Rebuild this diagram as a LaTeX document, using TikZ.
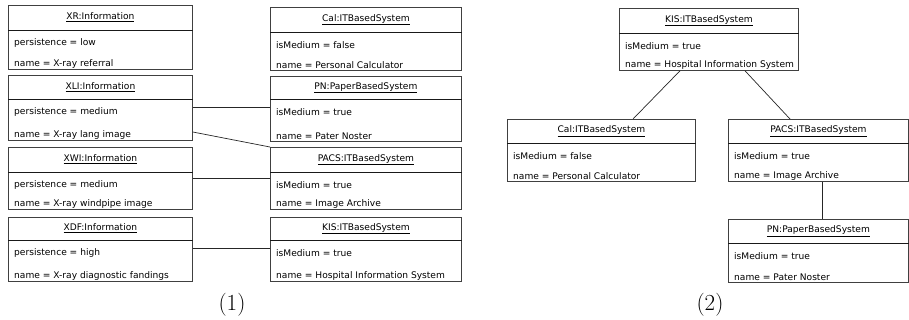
\documentclass[tikz,border=0pt]{standalone}
\usepackage{fontspec}
\newfontfamily\umlfont{DejaVu Sans}
\tikzset{
  objbox/.style={draw=black!75, line width=0.8pt, rectangle, inner sep=0pt, anchor=north west},
  hdr/.style={draw=black!90, line width=0.8pt},
  ttl/.style={font=\umlfont\fontsize{9.1}{11}\selectfont, inner sep=0pt},
  attr/.style={font=\umlfont\fontsize{9.1}{11}\selectfont, inner sep=0pt, anchor=west},
  link/.style={draw=black!85, line width=0.7pt},
  captext/.style={font=\fontsize{23}{27}\selectfont, inner sep=0pt}
}
% #1 name, #2 x, #3 top, #4 width, #5 height, #6 header height, #7 title, #8 attr1, #9 attr2
\newcommand\umlobj[9]{%
  \node[objbox, minimum width=#4pt, minimum height=#5pt] (#1) at (#2,#3) {};
  \draw[hdr] ([yshift=-#6pt]#1.north west) -- ([yshift=-#6pt]#1.north east);
  \node[ttl] (#1-t) at ([yshift=-#6pt/2]#1.north) {\underline{#7}};
  \node[attr] (#1-a) at ([xshift=6pt, yshift=-#6pt-13pt]#1.north west) {#8};
  \node[attr] (#1-b) at ([xshift=6pt, yshift=6pt]#1.south west) {#9};
}
\begin{document}
\begin{tikzpicture}[x=1pt, y=-1pt]
\useasboundingbox (0,0) rectangle (909,320);
% ---- (1) ----
\umlobj{xr}{8}{5}{184}{64}{25}{XR:Information}{persistence = low}{name = X-ray referral}
\umlobj{xli}{8}{75}{184}{65}{24}{XLI:Information}{persistence = medium}{name = X-ray lang image}
\umlobj{xwi}{8}{147}{184}{62}{25}{XWI:Information}{persistence = medium}{name = X-ray windpipe image}
\umlobj{xdf}{8}{217}{184}{64}{23}{XDF:Information}{persistence = high}{name = X-ray diagnostic fandings}
\umlobj{cal}{270}{7}{191}{63}{25}{Cal:ITBasedSystem}{isMedium = false}{name = Personal Calculator}
\umlobj{pn}{270}{76}{191}{65}{23}{PN:PaperBasedSystem}{isMedium = true}{name = Pater Noster}
\umlobj{pacs}{270}{147}{191}{62}{25}{PACS:ITBasedSystem}{isMedium = true}{name = Image Archive}
\umlobj{kis}{270}{217}{191}{64}{23}{KIS:ITBasedSystem}{isMedium = true}{name = Hospital Information System}
\draw[link] (xli.east |- 0,107) -- (pn.west |- 0,107);
\draw[link] (xli.east |- 0,132) -- (pacs.north west);
\draw[link] (xwi.east |- 0,178) -- (pacs.west |- 0,178);
\draw[link] (xdf.east |- 0,248) -- (kis.west |- 0,248);
\node[captext] (c1) at (232,305) {(1)};
% ---- (2) ----
\umlobj{kis2}{619}{8}{179}{62}{25}{KIS:ITBasedSystem}{isMedium = true}{name = Hospital Information System}
\umlobj{cal2}{507}{119}{188}{62}{24}{Cal:ITBasedSystem}{isMedium = false}{name = Personal Calculator}
\umlobj{pacs2}{728}{119}{180}{62}{24}{PACS:ITBasedSystem}{isMedium = true}{name = Image Archive}
\umlobj{pn2}{728}{219}{180}{63}{24}{PN:PaperBasedSystem}{isMedium = true}{name = Pater Noster}
\draw[link] (kis2.south west -| 680,0) -- (cal2.north west -| 633,0);
\draw[link] (kis2.south west -| 745,0) -- (pacs2.north west -| 790,0);
\draw[link] (pacs2.south west -| 822,0) -- (pn2.north west -| 822,0);
\node[captext] (c2) at (710,305) {(2)};
\end{tikzpicture}
\end{document}
